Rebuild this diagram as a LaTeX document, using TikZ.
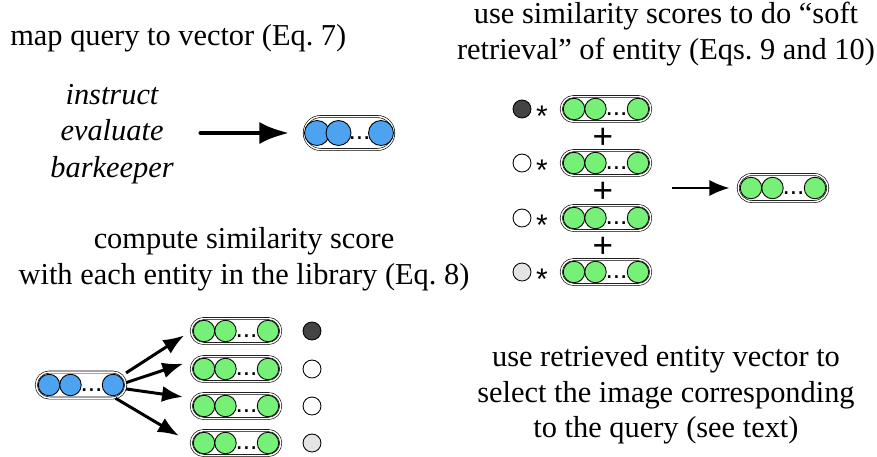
\documentclass[tikz,border=0pt]{standalone}
\usepackage{fontspec}
\setmainfont{Liberation Serif}
\setsansfont{Liberation Sans}
\usetikzlibrary{arrows.meta}

\definecolor{qblue}{HTML}{4DA3F0}
\definecolor{egreen}{HTML}{77F077}
\definecolor{dgray}{HTML}{444444}
\definecolor{lgray}{HTML}{E4E4E4}

\tikzset{
  pillh/.code={\def\pillh{#1}\pgfmathsetlengthmacro\pillr{#1/2}},
  pillh=0.5cm,
  pilld/.store in=\pilld, pilld=0.43cm,
  pill/.style={draw, double, double distance=0.03cm, line width=0.35pt,
    minimum width=1.79cm, minimum height=\pillh, rounded corners=\pillr, inner sep=0},
  ball/.style={circle, draw, line width=0.5pt, minimum size=\pilld, inner sep=0},
  ellip/.style={font=\sffamily\fontsize{15}{15}\selectfont, inner sep=0, anchor=base},
  vec/.pic={
    \node[pill] (-box) at (0,0) {};
    \node[ball, fill=#1] (-c1) at (-32,0) {};
    \node[ball, fill=#1] (-c2) at (-10.5,0) {};
    \node[ball, fill=#1] (-c3) at (32,0) {};
    \node[ellip] (-dots) at (10.5,6.5) {...};
  }
}

\begin{document}
\begin{tikzpicture}[x=0.02cm, y=-0.02cm, >=stealth,
  every node/.style={font=\fontsize{17.3}{20.3}\selectfont},
  label/.style={inner sep=0, align=center},
  score/.style={circle, draw, line width=0.5pt, minimum size=0.36cm, inner sep=0},
  op/.style={font=\sffamily\fontsize{17}{17}\selectfont, inner sep=0, anchor=base},
  big arrow/.style={line width=2.8pt, line cap=round, -{Latex[length=0.6cm,width=0.44cm]}},
  fan arrow/.style={line width=1.7pt, -{Latex[length=0.42cm,width=0.32cm]}},
  sum arrow/.style={line width=1.1pt, -{Latex[length=0.4cm,width=0.32cm]}}]
\useasboundingbox (0,0) rectangle (877,457);

% query -> vector
\node[label, anchor=west] (maptxt) at (10,38) {map query to vector (Eq.~7)};
\node[label, font=\itshape\fontsize{17.3}{20.6}\selectfont] (words) at (112,134) {instruct\\evaluate\\barkeeper};
\pic[pillh=0.66cm, pilld=0.5cm] (q) at (349,133) {vec=qblue};
\draw[big arrow, shorten <=0.54cm, shorten >=0.29cm] (words.east |- q-box) -- (q-box);

% soft retrieval
\node[label] (softtxt) at (666,34) {use similarity scores to do ``soft\\retrieval'' of entity (Eqs.~9 and 10)};
\foreach \y/\c [count=\i] in {109/dgray,163/white,218/white,272/lgray} {
  \node[score, fill=\c] (w\i) at (522,\y) {};
  \node[op] (s\i) at (542,\y+17) {*};
  \pic (r\i) at (606,\y) {vec=egreen};
}
\foreach \y [count=\i] in {136,190,245}
  \node[op, font=\sffamily\fontsize{20}{20}\selectfont] (p\i) at (603,\y+12) {+};
\coordinate (sum) at (672,188);
\pic[pillh=0.54cm] (e) at (783,188) {vec=egreen};
\draw[sum arrow, shorten >=0.17cm] (sum) -- (e-box);

% similarity with the library
\node[label] (simtxt) at (244,259) {compute similarity score\\with each entity in the library (Eq.~8)};
\pic[pillh=0.52cm] (b) at (81,385) {vec=qblue};
\foreach \y/\c [count=\i] in {331/dgray,369/white,406/white,443/lgray} {
  \pic (g\i) at (236,\y) {vec=egreen};
  \node[score, fill=\c] (d\i) at (312,\y) {};
}
\draw[fan arrow, shorten >=0.16cm] (b-box.15) -- (g1-box.west);
\draw[fan arrow, shorten >=0.16cm] (b-box.3) -- (g2-box.170);
\draw[fan arrow, shorten >=0.16cm] (b-box.-5) -- (g3-box.170);
\draw[fan arrow, shorten >=0.28cm] (b-box.-21) -- (g4-box.west);

% use retrieved vector
\node[label] (usetxt) at (666,395) {use retrieved entity vector to\\select the image corresponding\\to the query (see text)};
\end{tikzpicture}
\end{document}
